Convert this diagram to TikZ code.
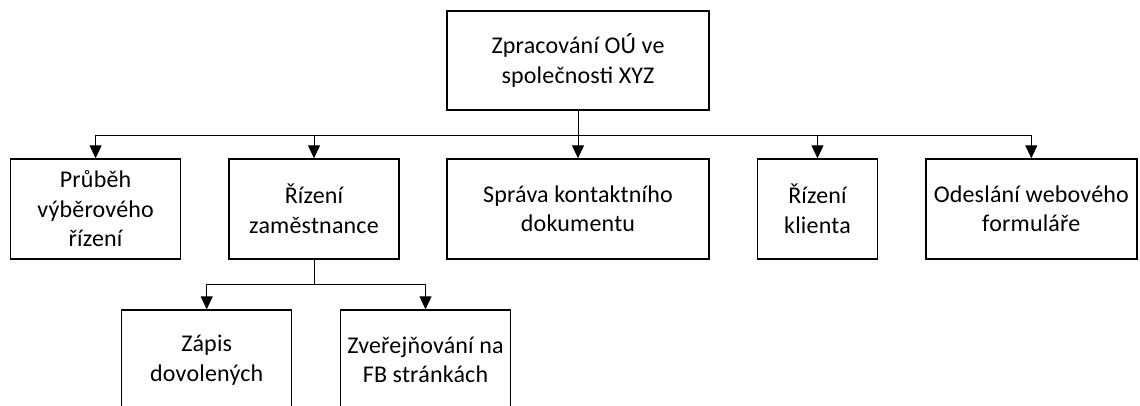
\documentclass[tikz,border=0pt]{standalone}
\usepackage{fontspec}
\setmainfont[LetterSpace=0.8]{Carlito}
\usetikzlibrary{arrows.meta}
\begin{document}
\begin{tikzpicture}[x=1pt,y=-1pt,
  box/.style={draw=black, line width=1.4pt, align=center, inner sep=0pt,
    font=\fontsize{24}{29.5}\selectfont, minimum height=100pt},
  arr/.style={line width=1pt, -{Triangle[length=13pt,width=12pt]}}]
\clip (0,0) rectangle (1140,405);
\node[box, minimum width=262pt, minimum height=99pt] (top) at (578,60.5) {Zpracování OÚ ve\\společnosti XYZ};
\node[box, minimum width=170pt] (b1) at (95.6,209) {Průběh\\výběrového\\řízení};
\node[box, minimum width=170pt] (b2) at (314,209) {Řízení\\zaměstnance};
\node[box, minimum width=262pt] (b3) at (578,209) {Správa kontaktního\\dokumentu};
\node[box, minimum width=120pt] (b4) at (817.5,209) {Řízení\\klienta};
\node[box, minimum width=211pt] (b5) at (1031.3,209) {Odeslání webového\\formuláře};
\node[box, minimum width=170pt] (b6) at (206.7,360) {Zápis\\dovolených};
\node[box, minimum width=170pt] (b7) at (425.5,360) {Zveřejňování na\\FB stránkách};
\coordinate (bus) at (578,135);
\coordinate (sub) at (314,284);
\draw[arr] (top.south) -- (bus) -| (b1.north);
\draw[arr] (top.south) -- (bus) -| (b2.north);
\draw[arr] (top.south) -- (b3.north);
\draw[arr] (top.south) -- (bus) -| (b4.north);
\draw[arr] (top.south) -- (bus) -| (b5.north);
\draw[arr] (b2.south) -- (sub) -| (b6.north);
\draw[arr] (b2.south) -- (sub) -| (b7.north);
\end{tikzpicture}
\end{document}
